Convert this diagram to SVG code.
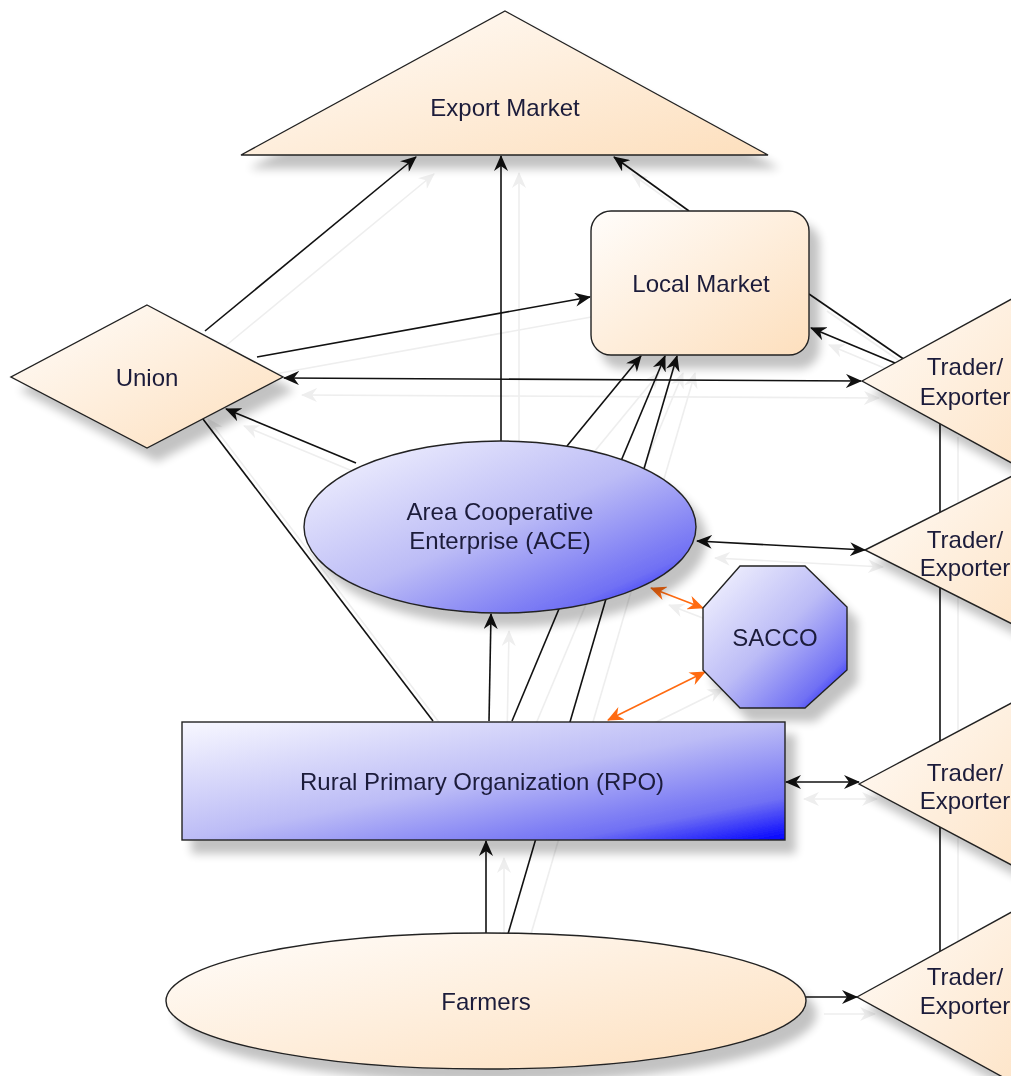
<svg xmlns="http://www.w3.org/2000/svg" width="1011" height="1076" viewBox="0 0 1011 1076">
<style>
.lbl{font-family:"Liberation Sans",Arial,sans-serif;font-size:24px;fill:#1c1c3a;text-anchor:middle}
.c{fill:none;stroke:#111;stroke-width:1.6}
.o{fill:none;stroke:#ff6a10;stroke-width:1.6}
.g{fill:none;stroke:#eeeeee;stroke-width:1.6}
.nd{stroke:#222;stroke-width:1.4}
</style>
<defs>
<linearGradient id="og" x1="0" y1="0" x2="1" y2="1">
<stop offset="0" stop-color="#fffdfb"/>
<stop offset="1" stop-color="#fddfbd"/>
</linearGradient>
<linearGradient id="bg" x1="0" y1="0" x2="1" y2="1">
<stop offset="0" stop-color="#f8f8ff"/>
<stop offset="0.5" stop-color="#bcbcf6"/>
<stop offset="0.82" stop-color="#7070f4"/>
<stop offset="1" stop-color="#0000ff"/>
</linearGradient>
<filter id="sh" x="-10%" y="-10%" width="130%" height="150%">
<feGaussianBlur in="SourceAlpha" stdDeviation="5"/>
<feOffset dx="10" dy="13"/>
<feComponentTransfer><feFuncA type="linear" slope="0.24"/></feComponentTransfer>
<feMerge><feMergeNode/><feMergeNode in="SourceGraphic"/></feMerge>
</filter>
<marker id="ab" viewBox="0 0 16 14" refX="15" refY="7" markerWidth="16" markerHeight="14" markerUnits="userSpaceOnUse" orient="auto-start-reverse"><path d="M0,0 L16,7 L0,14 L5,7 Z" fill="#111"/></marker>
<marker id="ao" viewBox="0 0 16 14" refX="15" refY="7" markerWidth="16" markerHeight="14" markerUnits="userSpaceOnUse" orient="auto-start-reverse"><path d="M0,0 L16,7 L0,14 L5,7 Z" fill="#ff6a10"/></marker>
<marker id="ag" viewBox="0 0 16 14" refX="15" refY="7" markerWidth="16" markerHeight="14" markerUnits="userSpaceOnUse" orient="auto-start-reverse"><path d="M0,0 L16,7 L0,14 L5,7 Z" fill="#eeeeee"/></marker>
</defs>
<rect width="1011" height="1076" fill="#fff"/>
<g id="connectors">
<g id="connector-shadows" transform="translate(18,17)">
<path class="g" d="M205,331 L416,157" marker-end="url(#ag)"/>
<path class="g" d="M501,441 L501,156" marker-end="url(#ag)"/>
<path class="g" d="M689,211 L614,157" marker-end="url(#ag)"/>
<path class="g" d="M257,357 L590,297" marker-end="url(#ag)"/>
<path class="g" d="M284,378 L861,381" marker-start="url(#ag)" marker-end="url(#ag)"/>
<path class="g" d="M356,463 L226,409" marker-end="url(#ag)"/>
<path class="g" d="M433,721 L190,402" marker-end="url(#ag)"/>
<path class="g" d="M567,446 L641,356" marker-end="url(#ag)"/>
<path class="g" d="M512,721 L665,356" marker-end="url(#ag)"/>
<path class="g" d="M508,934 L677,356" marker-end="url(#ag)"/>
<path class="g" d="M489,721 L491,614" marker-end="url(#ag)"/>
<path class="g" d="M486,934 L486,841" marker-end="url(#ag)"/>
<path class="g" d="M697,541 L865,550" marker-start="url(#ag)" marker-end="url(#ag)"/>
<path class="g" d="M786,782 L859,782" marker-start="url(#ag)" marker-end="url(#ag)"/>
<path class="g" d="M806,997 L857,997" marker-end="url(#ag)"/>
<path class="g" d="M895,363 L811,328" marker-end="url(#ag)"/>
<path class="g" d="M809,294 L905,360"/>
<path class="g" d="M940,420 L940,955"/>
<path class="g" d="M651,588 L703,608" marker-start="url(#ag)" marker-end="url(#ag)"/>
<path class="g" d="M608,720 L705,672" marker-start="url(#ag)" marker-end="url(#ag)"/>
</g>
<path class="c" d="M205,331 L416,157" marker-end="url(#ab)"/>
<path class="c" d="M501,441 L501,156" marker-end="url(#ab)"/>
<path class="c" d="M689,211 L614,157" marker-end="url(#ab)"/>
<path class="c" d="M257,357 L590,297" marker-end="url(#ab)"/>
<path class="c" d="M284,378 L861,381" marker-start="url(#ab)" marker-end="url(#ab)"/>
<path class="c" d="M356,463 L226,409" marker-end="url(#ab)"/>
<path class="c" d="M433,721 L190,402" marker-end="url(#ab)"/>
<path class="c" d="M567,446 L641,356" marker-end="url(#ab)"/>
<path class="c" d="M512,721 L665,356" marker-end="url(#ab)"/>
<path class="c" d="M508,934 L677,356" marker-end="url(#ab)"/>
<path class="c" d="M489,721 L491,614" marker-end="url(#ab)"/>
<path class="c" d="M486,934 L486,841" marker-end="url(#ab)"/>
<path class="c" d="M697,541 L865,550" marker-start="url(#ab)" marker-end="url(#ab)"/>
<path class="c" d="M786,782 L859,782" marker-start="url(#ab)" marker-end="url(#ab)"/>
<path class="c" d="M806,997 L857,997" marker-end="url(#ab)"/>
<path class="c" d="M895,363 L811,328" marker-end="url(#ab)"/>
<path class="c" d="M809,294 L905,360"/>
<path class="c" d="M940,420 L940,955"/>
<path class="o" d="M651,588 L703,608" marker-start="url(#ao)" marker-end="url(#ao)"/>
<path class="o" d="M608,720 L705,672" marker-start="url(#ao)" marker-end="url(#ao)"/>
</g>
<g id="export-market" filter="url(#sh)">
<polygon class="nd" points="505,11 768,155 241,155" fill="url(#og)"/>
<text class="lbl" x="505" y="116">Export Market</text>
</g>
<g id="local-market" filter="url(#sh)">
<rect class="nd" x="591" y="211" width="218" height="144" rx="20" fill="url(#og)"/>
<text class="lbl" x="701" y="292">Local Market</text>
</g>
<g id="union" filter="url(#sh)">
<polygon class="nd" points="147,305 283,377 147,448 11,377" fill="url(#og)"/>
<text class="lbl" x="147" y="386">Union</text>
</g>
<g id="ace" filter="url(#sh)">
<ellipse class="nd" cx="500" cy="527" rx="196" ry="86" fill="url(#bg)"/>
<text class="lbl" x="500" y="520">Area Cooperative</text>
<text class="lbl" x="500" y="549">Enterprise (ACE)</text>
</g>
<g id="sacco" filter="url(#sh)">
<polygon class="nd" points="740,566 805,566 847,607 847,670 805,708 740,708 703,670 703,608" fill="url(#bg)"/>
<text class="lbl" x="775" y="646">SACCO</text>
</g>
<g id="rpo" filter="url(#sh)">
<rect class="nd" x="182" y="722" width="603" height="118" fill="url(#bg)"/>
<text class="lbl" x="482" y="790">Rural Primary Organization (RPO)</text>
</g>
<g id="farmers" filter="url(#sh)">
<ellipse class="nd" cx="486" cy="1001" rx="320" ry="68" fill="url(#og)"/>
<text class="lbl" x="486" y="1010">Farmers</text>
</g>
<g id="trader-1" filter="url(#sh)">
<polygon class="nd" points="862,381 1070,267 1070,495" fill="url(#og)"/>
<text class="lbl" x="965" y="375">Trader/</text>
<text class="lbl" x="965" y="405">Exporter</text>
</g>
<g id="trader-2" filter="url(#sh)">
<polygon class="nd" points="865,550 1068,448 1068,652" fill="url(#og)"/>
<text class="lbl" x="965" y="548">Trader/</text>
<text class="lbl" x="965" y="576">Exporter</text>
</g>
<g id="trader-3" filter="url(#sh)">
<polygon class="nd" points="859,784 1068,673 1068,895" fill="url(#og)"/>
<text class="lbl" x="965" y="781">Trader/</text>
<text class="lbl" x="965" y="809">Exporter</text>
</g>
<g id="trader-4" filter="url(#sh)">
<polygon class="nd" points="857,997 1070,880 1070,1114" fill="url(#og)"/>
<text class="lbl" x="965" y="985">Trader/</text>
<text class="lbl" x="965" y="1014">Exporter</text>
</g>
</svg>
